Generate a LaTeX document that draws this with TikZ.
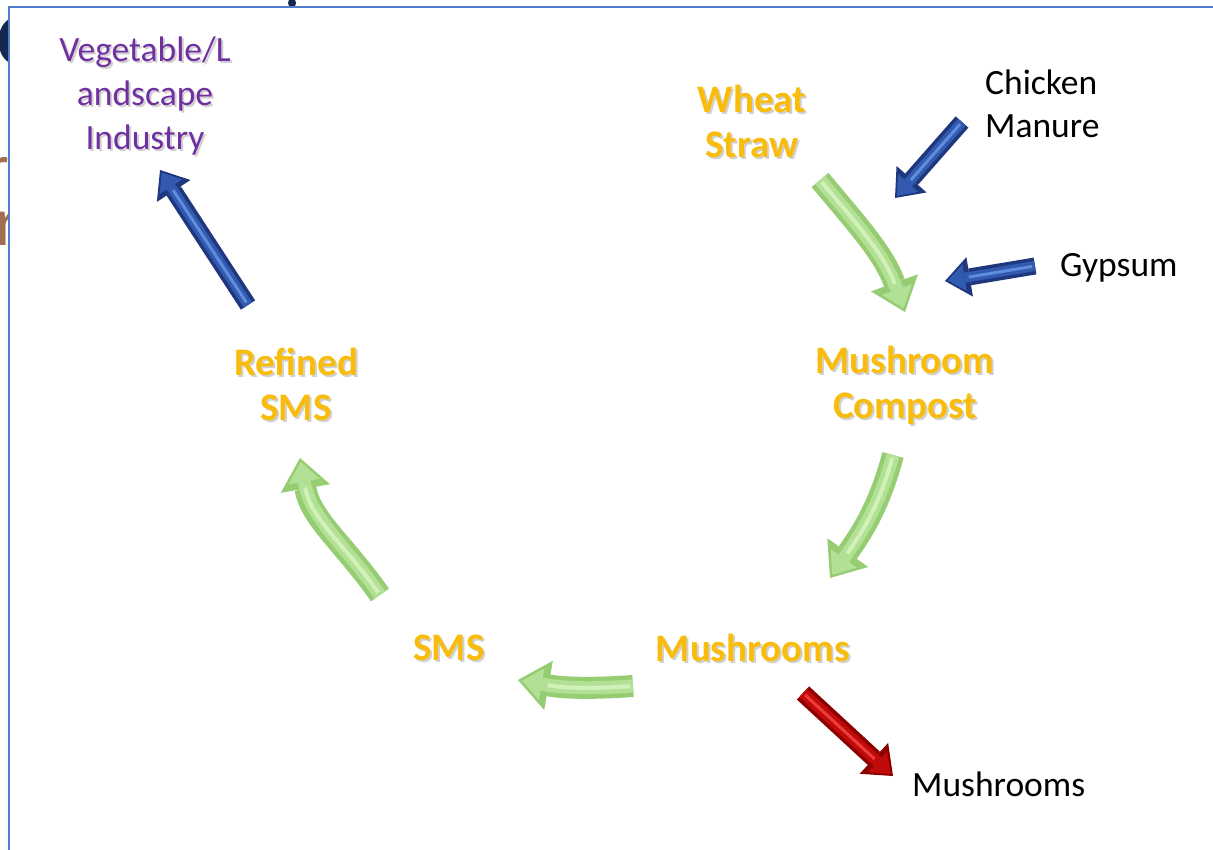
\documentclass[tikz,border=0pt]{standalone}
\usepackage{fontspec}
\setmainfont{Carlito}
\usetikzlibrary{arrows.meta,calc}
\definecolor{goldc}{RGB}{250,188,10}
\definecolor{purplec}{RGB}{112,48,160}
\definecolor{navyc}{RGB}{20,40,80}
\definecolor{brownc}{RGB}{160,110,80}
\definecolor{framec}{RGB}{80,125,205}
\definecolor{bdark}{RGB}{30,55,125}
\definecolor{bmain}{RGB}{50,90,175}
\definecolor{blight}{RGB}{95,140,220}
\definecolor{rdark}{RGB}{140,0,0}
\definecolor{rmain}{RGB}{195,10,10}
\definecolor{rlight}{RGB}{235,60,60}
\definecolor{gdark}{RGB}{150,205,115}
\definecolor{gmain}{RGB}{178,224,148}
\definecolor{glight}{RGB}{208,242,185}
\newcommand\shlabel[4]{%
  \node[#2, text=black, opacity=0.18] (#1sh) at ($(#3)+(2,2)$) {#4};
  \node[#2] (#1) at (#3) {#4};}
\tikzset{
  goldlbl/.style={font=\bfseries\fontsize{39}{45}\selectfont, text=goldc, align=center, inner sep=0pt},
  purplelbl/.style={font=\fontsize{35.5}{44}\selectfont, text=purplec, align=center, inner sep=0pt},
  blacklbl/.style={font=\fontsize{35.5}{43.5}\selectfont, text=black, align=left, inner sep=0pt, anchor=west},
  gouter/.style={line width=22pt, draw=gdark, -{Triangle[length=31pt,width=50pt,line width=0pt]}},
  ginner/.style={line width=13pt, draw=gmain, shorten >=4pt, -{Triangle[length=20pt,width=32pt,line width=0pt]}},
  ghigh/.style={line width=4pt, draw=glight, shorten >=30pt, shorten <=3pt},
  bouter/.style={line width=17pt, draw=bdark, -{Triangle[length=25pt,width=40pt,line width=0pt]}},
  binner/.style={line width=10pt, draw=bmain, shorten >=3pt, -{Triangle[length=17pt,width=27pt,line width=0pt]}},
  bhigh/.style={line width=3pt, draw=blight, shorten >=24pt, shorten <=3pt},
  router/.style={line width=18pt, draw=rdark, -{Triangle[length=26pt,width=42pt,line width=0pt]}},
  rinner/.style={line width=11pt, draw=rmain, shorten >=3pt, -{Triangle[length=18pt,width=28pt,line width=0pt]}},
  rhigh/.style={line width=3pt, draw=rlight, shorten >=25pt, shorten <=3pt}
}
\begin{document}
\begin{tikzpicture}[x=1pt,y=-1pt]
\useasboundingbox (0,0) rectangle (1213,850);
\fill[white] (0,0) rectangle (1213,850);
% background fragments
\begin{scope}
  \clip (0,0) rectangle (8,850);
  \node[anchor=base west, inner sep=0pt, text=navyc, font=\bfseries\fontsize{75}{75}\selectfont] (fragC) at (-3,66) {C};
  \node[anchor=base west, inner sep=0pt, text=brownc, font=\fontsize{62}{62}\selectfont] (fragRa) at (-13,188) {r};
  \node[anchor=base west, inner sep=0pt, text=brownc, font=\fontsize{70}{70}\selectfont] (fragRb) at (-5,246) {r};
\end{scope}
\fill[navyc] (292,3) ellipse (4 and 5);
\draw[framec, line width=2pt] (1213,7) -- (9,7) -- (9,850);
% labels
\shlabel{veg}{purplelbl}{145,96}{Vegetable/L\\andscape\\Industry}
\shlabel{wheat}{goldlbl}{752,121}{Wheat\\Straw}
\shlabel{compost}{goldlbl}{905,385}{Mushroom\\Compost}
\shlabel{refined}{goldlbl}{296,384}{Refined\\SMS}
\shlabel{sms}{goldlbl}{449,648}{SMS}
\shlabel{mush}{goldlbl}{753,648}{Mushrooms}
\node[blacklbl] (chicken) at (985,104) {Chicken\\Manure};
\node[blacklbl] (gypsum) at (1060,268) {Gypsum};
\node[blacklbl] (mushout) at (912,784) {Mushrooms};
% arrow end points
\coordinate (b1s) at (248,305); \coordinate (b1e) at (160,170);
\coordinate (c1s) at (962,122); \coordinate (c1e) at (895,198);
\coordinate (g1s) at (1035,266); \coordinate (g1e) at (945,281);
\coordinate (r1s) at (803,693); \coordinate (r1e) at (893,776);
\coordinate (w1s) at (820,180); \coordinate (w1e) at (905,312);
\coordinate (m1s) at (893,455); \coordinate (m1e) at (830,578);
\coordinate (s1s) at (633,686); \coordinate (s1e) at (518,680);
\coordinate (f1s) at (380,595); \coordinate (f1e) at (300,458);
% green cycle arrows
\foreach \a/\b/\o/\i in {w1s/w1e/-50/110, m1s/m1e/-105/55, s1s/s1e/184/-10, f1s/f1e/125/-80}{
  \draw[gouter] (\a) to[out=\o,in=\i] (\b);
  \draw[ginner] (\a) to[out=\o,in=\i] (\b);
  \draw[ghigh] (\a) to[out=\o,in=\i] (\b);
}
% blue arrows
\foreach \a/\b in {b1s/b1e, c1s/c1e, g1s/g1e}{
  \draw[bouter] (\a) -- (\b);
  \draw[binner] (\a) -- (\b);
  \draw[bhigh] (\a) -- (\b);
}
% red arrow
\draw[router] (r1s) -- (r1e);
\draw[rinner] (r1s) -- (r1e);
\draw[rhigh] (r1s) -- (r1e);
\end{tikzpicture}
\end{document}
